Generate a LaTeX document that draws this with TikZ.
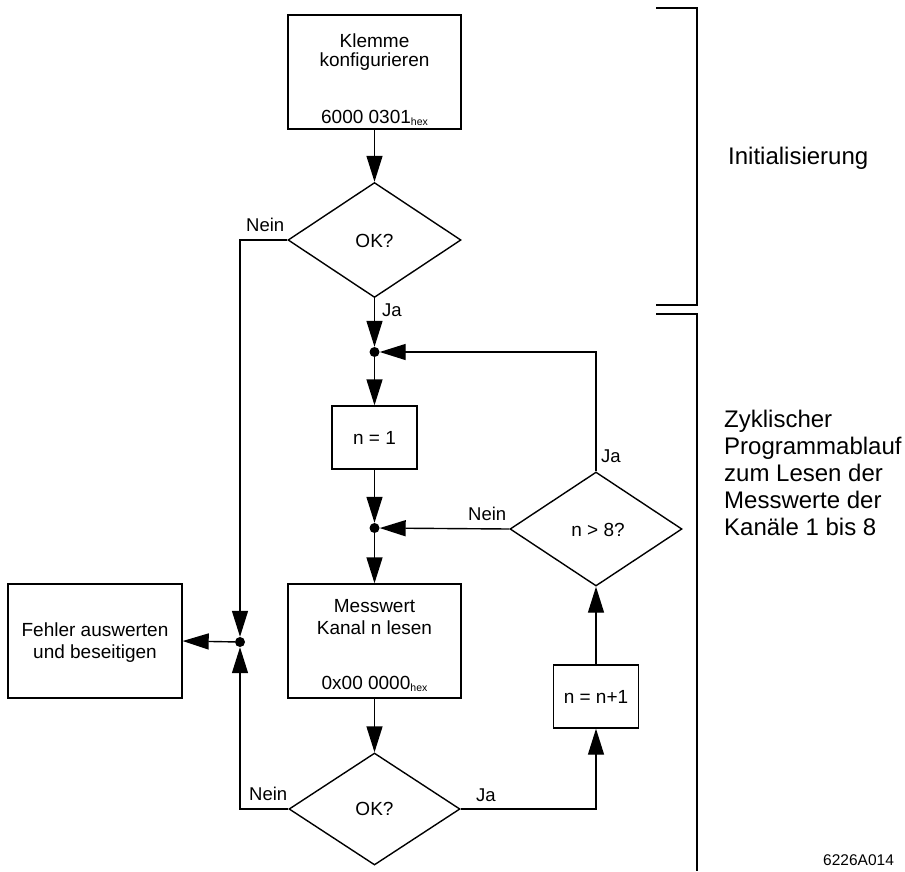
\documentclass[tikz,border=0pt]{standalone}
\usepackage{fontspec}
\setmainfont{Liberation Sans}
\usetikzlibrary{shapes.geometric,arrows.meta}
\tikzset{
  ln/.style={line width=1.4pt},
  box/.style={ln, draw, rectangle, inner sep=0pt},
  dia/.style={ln, draw, diamond, inner sep=0pt},
  dot/.style={circle, fill, inner sep=0pt, minimum size=10pt},
  arr/.style={ln, -{Triangle[length=26pt,width=16pt]}},
  con/.style={ln},
  txt/.style={inner sep=0pt, anchor=base, font=\fontsize{19}{22}\selectfont},
  lbl/.style={inner sep=0pt, anchor=base west, font=\fontsize{18.5}{22}\selectfont},
  side/.style={inner sep=0pt, anchor=base west, font=\fontsize{24}{27}\selectfont},
}
\newcommand{\hexsub}{\raisebox{-2.5pt}{\fontsize{10.5}{12}\selectfont hex}}
\begin{document}
\begin{tikzpicture}[x=1pt,y=-1pt]
\useasboundingbox (0,0) rectangle (905,871);

% boxes
\node[box, minimum width=173pt, minimum height=114pt] (b1) at (374.5,72) {};
\node[dia, minimum width=173pt, minimum height=115pt] (dia1) at (374.5,240) {};
\node[dot] (d1) at (374.5,352) {};
\node[box, minimum width=85pt, minimum height=63pt] (bn1) at (374.5,437.5) {};
\node[dot] (d2) at (374.5,528) {};
\node[dia, minimum width=172pt, minimum height=114pt] (dia2) at (596,529) {};
\node[box, minimum width=173pt, minimum height=114pt] (bm) at (374.5,641) {};
\node[box, minimum width=174pt, minimum height=114pt] (bf) at (95,641) {};
\node[dot] (d3) at (240,642) {};
\node[dia, minimum width=171pt, minimum height=112pt] (dia3) at (374.5,809) {};
\node[box, minimum width=85pt, minimum height=63pt] (bnn) at (596,696.5) {};

% texts in shapes
\node[txt] (t1a) at (374.5,47) {Klemme};
\node[txt] (t1b) at (374.5,66) {konfigurieren};
\node[txt] (t1c) at (374.5,123) {6000 0301\hexsub};
\node[txt] (tok1) at (374.5,247) {OK?};
\node[txt] (tn1) at (374.5,444) {n = 1};
\node[txt] (tn8) at (598,536) {n > 8?};
\node[txt] (tma) at (374.5,612) {Messwert};
\node[txt] (tmb) at (374.5,634) {Kanal n lesen};
\node[txt] (tmc) at (374.5,689) {0x00 0000\hexsub};
\node[txt] (tfa) at (95,636) {Fehler auswerten};
\node[txt] (tfb) at (95,658) {und beseitigen};
\node[txt] (tok3) at (374.5,815) {OK?};
\node[txt] (tnn) at (596,703) {n = n+1};

% connector labels
\node[lbl] (l1) at (246,231) {Nein};
\node[lbl] (l2) at (382,316) {Ja};
\node[lbl] (l3) at (601,462) {Ja};
\node[lbl] (l4) at (468,520) {Nein};
\node[lbl] (l5) at (249,800) {Nein};
\node[lbl] (l6) at (476,801) {Ja};

% connectors
\draw[arr] (b1.south) -- (dia1.north);
\draw[arr] (dia1.west) -| (d3);
\draw[arr] (dia1.south) -- (d1);
\draw[arr] (dia2.north) |- (d1);
\draw[arr] (d1) -- (bn1.north);
\draw[arr] (bn1.south) -- (d2);
\draw[arr] (dia2.west) -- (d2);
\draw[arr] (d2) -- (bm.north);
\draw[arr] (bm.south) -- (dia3.north);
\draw[arr] (dia3.west) -| (d3);
\draw[arr] (d3) -- (bf.east);
\draw[arr] (dia3.east) -| (bnn.south);
\draw[arr] (bnn.north) -- (dia2.south);

% brackets
\draw[ln] (656,8) -- (697,8) -- (697,305) -- (656,305);
\draw[ln] (656,314) -- (697,314) -- (697,871);

% side texts
\node[side] (s0) at (728,164) {Initialisierung};
\node[side] (s1) at (724,427) {Zyklischer};
\node[side] (s2) at (724,454) {Programmablauf};
\node[side] (s3) at (724,481) {zum Lesen der};
\node[side] (s4) at (724,508) {Messwerte der};
\node[side] (s5) at (724,535) {Kanäle 1 bis 8};
\node[inner sep=0pt, anchor=base west, font=\fontsize{15.5}{18}\selectfont] (code) at (823,865) {6226A014};
\end{tikzpicture}
\end{document}
